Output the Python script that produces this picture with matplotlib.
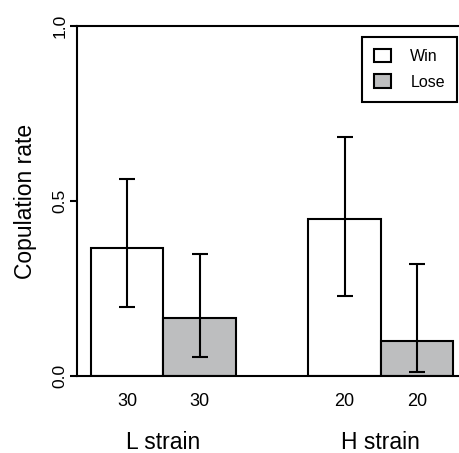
import numpy as np
import matplotlib.pyplot as plt
from matplotlib.patches import Patch

plt.rcParams['font.family'] = ['Liberation Sans', 'DejaVu Sans']

# datos
grupos = ["L strain", "H strain"]
series = ["Win", "Lose"]
tasa_win = [0.366, 0.450]
tasa_lose = [0.167, 0.100]
sup_win = [0.563, 0.684]
inf_win = [0.198, 0.229]
sup_lose = [0.348, 0.319]
inf_lose = [0.055, 0.012]
n_win = ["30", "20"]
n_lose = ["30", "20"]

colores = ["white", "#bdbebf"]

fig = plt.figure(figsize=(4.6, 4.53), dpi=100)
ax = fig.add_axes([77/460, 1-376/453, (460-77)/460, 350/453])

centros = np.array([1.19, 4.19])
ancho = 1.0
x_win = centros - ancho/2
x_lose = centros + ancho/2

for xs, ys, sup, inf, col in [(x_win, tasa_win, sup_win, inf_win, colores[0]),
                              (x_lose, tasa_lose, sup_lose, inf_lose, colores[1])]:
    ys = np.array(ys)
    ax.bar(xs, ys, width=ancho, color=col, edgecolor="black", linewidth=1.5, zorder=2)
    yerr = [ys - np.array(inf), np.array(sup) - ys]
    ax.errorbar(xs, ys, yerr=yerr, fmt="none", ecolor="black", elinewidth=1.5,
                capsize=5.5, capthick=1.5, zorder=3)

ax.set_xlim(0, (460-77)/72.5)
ax.set_ylim(0, 1)

# ejes
ax.spines["right"].set_visible(False)
for s in ["left", "top", "bottom"]:
    ax.spines[s].set_linewidth(1.5)

ax.set_yticks([0, 0.5, 1.0])
ax.set_yticklabels(["0.0", "0.5", "1.0"], rotation=90, va="center")
ax.tick_params(axis="y", length=5, width=1.5, labelsize=12.5, pad=2)

xt = np.concatenate([x_win, x_lose])
xl = n_win + n_lose
ax.set_xticks(xt)
ax.set_xticklabels(xl)
ax.tick_params(axis="x", length=0, labelsize=13, pad=12)

for c, g in zip(centros, grupos):
    ax.text(c, -0.19, g, transform=ax.get_xaxis_transform(), ha="center",
            va="center", fontsize=16.5)

ax.set_ylabel("Copulation rate", fontsize=16.5)
ax.yaxis.set_label_coords(-0.104, 0.5)

# leyenda
handles = [Patch(facecolor=colores[i], edgecolor="black", linewidth=1.5, label=series[i])
           for i in range(2)]
leg = ax.legend(handles=handles, loc="upper right", bbox_to_anchor=(457/460, 1-37/453),
                bbox_transform=fig.transFigure, borderaxespad=0, fancybox=False,
                edgecolor="black", fontsize=11.5, handlelength=1.1, handleheight=0.9,
                handletextpad=1.2, labelspacing=0.65, borderpad=0.75, framealpha=1)
leg.get_frame().set_linewidth(1.5)

fig.savefig("out.png", dpi=100)
